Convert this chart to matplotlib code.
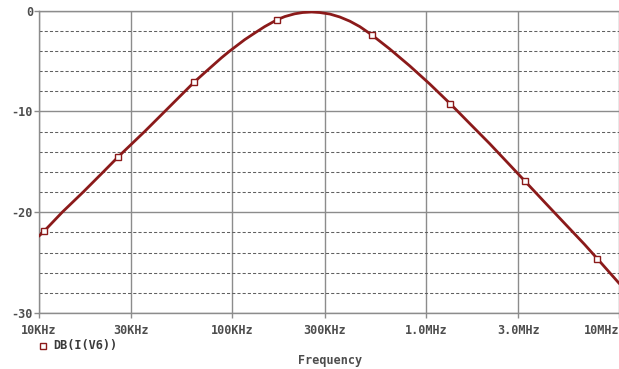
"""Bandpass response, PSpice-style: DB(I(V6)) vs frequency."""

import matplotlib
matplotlib.use('Agg')
import matplotlib.pyplot as plt
from matplotlib.lines import Line2D
from matplotlib.ticker import FixedLocator, MultipleLocator, NullLocator

# curve (Hz, dB)
freq = [10e3, 10.66e3, 13.25e3, 17.0e3, 21.6e3, 25.8e3, 35.3e3, 44.9e3, 57.1e3,
        63.6e3, 73.7e3, 88.1e3, 97.2e3, 116e3, 131e3, 147e3, 171e3, 187e3,
        210e3, 231e3, 257e3, 283e3, 319e3, 359e3, 405e3, 456e3, 524e3,
        651e3, 825e3, 1.046e6, 1.34e6, 1.683e6, 2.134e6, 2.706e6, 3.24e6,
        4.10e6, 5.20e6, 6.60e6, 7.67e6, 10e6]
db = [-22.4, -21.9, -20.0, -18.0, -16.0, -14.5, -12.0, -10.0, -8.0,
      -7.1, -6.0, -4.68, -4.01, -2.89, -2.22, -1.60, -0.9, -0.6,
      -0.33, -0.2, -0.15, -0.2, -0.35, -0.64, -1.06, -1.6, -2.4,
      -3.82, -5.49, -7.28, -9.27, -11.2, -13.2, -15.3, -16.9,
      -19.0, -21.1, -23.2, -24.6, -27.1]

# data-point markers
mark_freq = [10.66e3, 25.8e3, 63.6e3, 171e3, 524e3, 1.34e6, 3.24e6, 7.67e6]
mark_db = [-21.9, -14.5, -7.1, -0.9, -2.4, -9.27, -16.9, -24.6]

xticks = [10e3, 30e3, 100e3, 300e3, 1e6, 3e6, 10e6]
xlabels = ['10KHz', '30KHz', '100KHz', '300KHz', '1.0MHz', '3.0MHz', '10MHz']
yticks = [-30, -20, -10, 0]
ylabels = ['-30', '-20', '-10', '0']

W, H = 619, 369
red = '#8b1a1a'
gridc = '#8c8c8c'
textc = '#4d4d4d'
font = dict(family='DejaVu Sans Mono', fontweight='bold', fontsize=8.5, color=textc)

fig = plt.figure(figsize=(W / 100, H / 100), dpi=100)
left, right, top, bottom = 38.6, 619.5, 10.5, 313
ax = fig.add_axes([left / W, 1 - bottom / H, (right - left) / W, (bottom - top) / H])

ax.plot(freq, db, color=red, lw=2.0, solid_capstyle='round',
        solid_joinstyle='round', zorder=3)
ax.plot(mark_freq, mark_db, ls='none', marker='s', ms=4, mfc='white',
        mec=red, mew=1.0, zorder=4)

ax.set_xscale('log')
ax.set_xlim(10e3, 10e6)
ax.set_ylim(-30, 0)

ax.xaxis.set_major_locator(FixedLocator(xticks))
ax.xaxis.set_minor_locator(NullLocator())
ax.set_xticklabels(xlabels, **font)
ax.yaxis.set_major_locator(FixedLocator(yticks))
ax.yaxis.set_minor_locator(MultipleLocator(2))
ax.set_yticklabels(ylabels, **font)

ax.tick_params(axis='both', which='major', direction='out', length=5 * 0.72,
               width=1, color=gridc, pad=4)
ax.tick_params(axis='y', which='major', pad=0.5)
ax.tick_params(axis='y', which='minor', length=0)

# last x label hugs the right edge
ax.get_xticklabels()[-1].set_horizontalalignment('right')

ax.grid(which='major', axis='both', color=gridc, lw=1.0, ls='-')
ax.grid(which='minor', axis='y', color='#606060', lw=0.75, ls=(0, (3, 2)))
ax.set_axisbelow(True)

for name in ['left', 'bottom', 'top']:
    ax.spines[name].set_color(gridc)
    ax.spines[name].set_linewidth(1.0)
ax.spines['right'].set_visible(False)

# legend entry and axis title
fig.add_artist(Line2D([42.7 / W], [1 - 345.5 / H], transform=fig.transFigure,
                      ls='none', marker='s', ms=4, mfc='white', mec=red, mew=1.0))
fig.text(53 / W, 1 - 345.5 / H, 'DB(I(V6))', ha='left', va='center',
         family='DejaVu Sans Mono', fontweight='bold', fontsize=8.5, color='#3a3a3a')
fig.text(330 / W, 1 - 360.5 / H, 'Frequency', ha='center', va='center', **font)

fig.savefig('out.png', dpi=100)
